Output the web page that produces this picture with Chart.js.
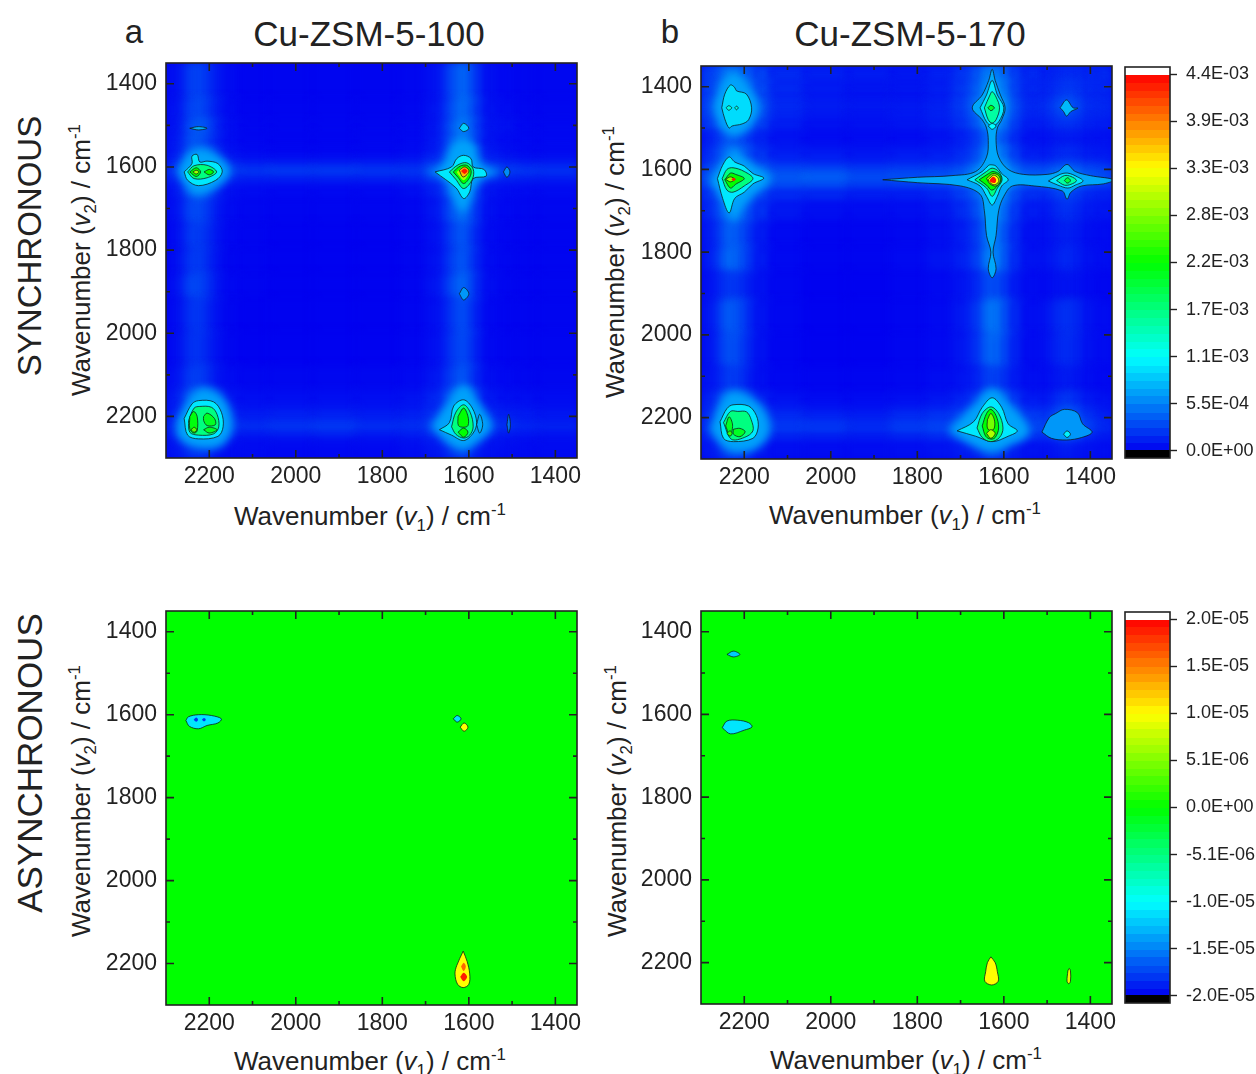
<!DOCTYPE html>
<html>
<head>
<meta charset="utf-8">
<script src="https://cdn.jsdelivr.net/npm/chart.js@4/dist/chart.umd.min.js"></script>
<style>
  html, body { margin: 0; padding: 0; background: #fff; }
  body { position: relative; width: 1256px; height: 1074px; overflow: hidden; font-family: "Liberation Sans", Arial, sans-serif; color: #222; }
  canvas { position: absolute; }
  .txt { position: absolute; white-space: nowrap; transform: translate(-50%, -50%); line-height: 1; }
  .rot { transform: translate(-50%, -50%) rotate(-90deg); }
  .ax { font-size: 26px; }
  .ax span { font-size: 65%; position: relative; }
  .ax .sb { top: 6px; }
  .ax .sp { top: -10px; }
</style>
</head>
<body>
<div class="txt" style="left:134px;top:31px;font-size:33px">a</div>
<div class="txt" style="left:670px;top:31px;font-size:33px">b</div>
<div class="txt" style="left:369px;top:33px;font-size:35px">Cu-ZSM-5-100</div>
<div class="txt" style="left:910px;top:33px;font-size:35px">Cu-ZSM-5-170</div>
<div class="txt rot" style="left:29px;top:246px;font-size:33px">SYNCHRONOUS</div>
<div class="txt rot" style="left:29px;top:763px;font-size:35px">ASYNCHRONOUS</div>
<div class="txt ax" style="left:370px;top:516px">Wavenumber (<i>v</i><span class="sb">1</span>) / cm<span class="sp">-1</span></div>
<div class="txt ax" style="left:905px;top:515px">Wavenumber (<i>v</i><span class="sb">1</span>) / cm<span class="sp">-1</span></div>
<div class="txt ax" style="left:370px;top:1061px">Wavenumber (<i>v</i><span class="sb">1</span>) / cm<span class="sp">-1</span></div>
<div class="txt ax" style="left:906px;top:1060px">Wavenumber (<i>v</i><span class="sb">1</span>) / cm<span class="sp">-1</span></div>
<div class="txt ax rot" style="left:81px;top:260px">Wavenumber (<i>v</i><span class="sb">2</span>) / cm<span class="sp">-1</span></div>
<div class="txt ax rot" style="left:615px;top:262px">Wavenumber (<i>v</i><span class="sb">2</span>) / cm<span class="sp">-1</span></div>
<div class="txt ax rot" style="left:81px;top:801px">Wavenumber (<i>v</i><span class="sb">2</span>) / cm<span class="sp">-1</span></div>
<div class="txt ax rot" style="left:617px;top:801px">Wavenumber (<i>v</i><span class="sb">2</span>) / cm<span class="sp">-1</span></div>
<script>
// wavenumber ticks (only the even hundreds get a label)
const waveTicks = [1400, 1500, 1600, 1700, 1800, 1900, 2000, 2100, 2200];
const waveLabels = [1400, 1600, 1800, 2000, 2200];

// colour bars, sync values in 1e-5 and async values in 1e-6
const syncBarTicks = [440, 385, 330, 275, 220, 165, 110, 55, 0];
const syncBarLabels = ['4.4E-03', '3.9E-03', '3.3E-03', '2.8E-03', '2.2E-03', '1.7E-03', '1.1E-03', '5.5E-04', '0.0E+00'];
const asyncBarTicks = [20, 15, 10, 5, 0, -5, -10, -15, -20];
const asyncBarLabels = ['2.0E-05', '1.5E-05', '1.0E-05', '5.1E-06', '0.0E+00', '-5.1E-06', '-1.0E-05', '-1.5E-05', '-2.0E-05'];
const syncBarLevels = [5, 14, 23, 32, 41, 50, 60, 69, 78, 87, 96, 105, 115, 124, 133, 142, 151, 160, 170, 179, 188, 197, 206, 215, 225, 234, 243, 252, 261, 270, 280, 289, 298, 307, 316, 325, 335, 344, 353, 362, 371, 380, 390, 399, 408, 417, 426, 435, 460, -20];
const asyncBarLevels = [-19.6, -18.8, -17.9, -17.1, -16.3, -15.4, -14.6, -13.8, -12.9, -12.1, -11.3, -10.4, -9.6, -8.8, -7.9, -7.1, -6.3, -5.4, -4.6, -3.8, -2.9, -2.1, -1.3, -0.4, 0.4, 1.3, 2.1, 2.9, 3.8, 4.6, 5.4, 6.3, 7.1, 7.9, 8.8, 9.6, 10.4, 11.3, 12.1, 12.9, 13.8, 14.6, 15.4, 16.3, 17.1, 17.9, 18.8, 19.6, 21, -21];

// panel a, synchronous, band edges and band values in 1e-5
const edgesV1A = [2300, 2275, 2258, 2243, 2228, 2213, 2198, 2183, 2165, 2130, 2060, 1960, 1860, 1760, 1700, 1665, 1645, 1630, 1615, 1600, 1585, 1565, 1530, 1490, 1440, 1350];
const edgesV2A = [1350, 1440, 1490, 1520, 1560, 1585, 1600, 1612, 1625, 1645, 1680, 1740, 1800, 1860, 1920, 2000, 2080, 2140, 2180, 2205, 2222, 2238, 2255, 2275, 2300];
const gridA = [
  [6,10,22,32,34,28,20,12,5,2,2,2,2,3,7,18,36,46,50,42,22,7,4,3,3],
  [7,12,24,34,38,30,22,13,5,2,2,2,2,3,8,20,38,50,52,44,24,8,5,3,3],
  [8,14,30,42,48,42,30,16,7,3,3,3,3,4,10,24,44,60,62,50,26,10,8,4,4],
  [9,15,30,42,44,36,26,15,6,3,2,2,3,4,10,24,46,60,64,50,26,9,5,4,4],
  [10,20,40,52,55,50,40,22,10,5,4,4,4,6,14,34,60,75,80,62,34,13,8,5,5],
  [16,30,55,68,70,64,52,32,18,12,12,12,12,14,26,50,80,95,100,80,48,22,16,12,12],
  [24,34,60,80,85,80,65,42,30,26,28,28,26,26,36,60,95,110,110,90,55,34,30,26,24],
  [26,36,62,82,86,80,65,42,30,28,30,30,28,28,38,62,95,110,110,90,55,35,32,28,26],
  [16,26,50,66,68,60,48,30,18,14,14,14,14,16,26,46,75,95,95,75,40,20,16,14,12],
  [8,16,34,48,50,40,30,18,8,5,4,4,4,6,14,30,55,70,70,55,28,10,6,5,5],
  [6,12,26,36,38,30,22,12,5,3,2,2,2,3,9,22,40,52,54,42,22,7,4,3,3],
  [4,10,20,30,30,24,18,10,4,2,1,1,1,2,7,16,30,40,42,32,16,5,3,2,2],
  [4,10,20,28,30,24,16,9,3,2,1,1,1,2,7,16,30,40,42,32,16,5,3,2,2],
  [5,12,26,36,36,28,20,10,4,2,1,1,1,2,8,20,36,48,50,38,18,6,3,2,2],
  [4,9,18,26,28,22,14,8,3,1,1,1,1,2,6,14,26,36,38,28,14,4,2,2,2],
  [4,9,18,24,26,20,14,8,3,1,1,1,1,2,6,14,26,34,36,28,14,4,2,2,2],
  [6,12,22,30,32,26,18,10,5,3,3,3,3,4,9,18,30,40,42,32,16,6,4,3,3],
  [10,18,36,48,50,44,34,20,10,6,6,6,6,8,16,30,50,64,66,50,26,11,7,6,5],
  [14,24,46,60,64,60,46,28,16,12,14,14,12,14,22,38,62,78,80,60,34,18,14,12,10],
  [16,26,50,66,70,66,50,32,20,16,18,20,16,18,26,44,70,84,86,66,38,20,18,14,12],
  [20,30,54,72,76,70,54,36,26,24,28,30,24,24,30,48,72,88,90,70,42,26,26,20,18],
  [16,24,46,62,66,60,44,28,18,14,16,18,14,16,24,40,62,78,80,60,34,18,14,12,10],
  [10,16,30,42,44,38,28,16,8,6,6,6,6,8,14,26,44,56,58,42,22,10,8,6,6],
  [8,12,20,26,28,24,18,10,6,5,4,4,4,6,10,16,26,34,34,26,14,8,6,5,5]
];
// each contour: level, black line or not, then v1,v2 pairs (level 70 without a line is the soft glow)
const contoursA = [
  [70,0, 2275,1610,2235,1560,2190,1565,2150,1610,2190,1655,2235,1665,2275,1610],
  [100,1, 2258,1612,2240,1592,2240,1574,2228,1570,2222,1588,2205,1586,2180,1592,2170,1612,2185,1632,2225,1645,2250,1632,2258,1612],
  [165,1, 2250,1612,2235,1597,2205,1596,2183,1612,2205,1626,2235,1628,2250,1612],
  [220,1, 2245,1612,2230,1602,2220,1612,2230,1623,2245,1612],
  [220,1, 2212,1612,2200,1606,2190,1612,2200,1619,2212,1612],
  [290,1, 2238,1612,2230,1608,2224,1612,2230,1617,2238,1612],
  [75,1, 2245,1507,2225,1503,2205,1507,2225,1511,2245,1507],
  [70,0, 1700,1612,1650,1590,1640,1550,1612,1535,1585,1550,1580,1590,1530,1612,1580,1635,1600,1690,1612,1710,1630,1690,1650,1630,1700,1612],
  [100,1, 1678,1612,1640,1600,1628,1580,1612,1572,1595,1580,1590,1600,1565,1606,1560,1622,1590,1628,1598,1660,1612,1676,1630,1650,1678,1612],
  [165,1, 1645,1612,1625,1595,1605,1590,1590,1605,1592,1630,1612,1652,1630,1630,1645,1612],
  [220,1, 1636,1612,1620,1598,1605,1596,1595,1608,1598,1625,1612,1640,1625,1625,1636,1612],
  [290,0, 1628,1612,1612,1600,1600,1610,1603,1622,1612,1632,1622,1622,1628,1612],
  [360,1, 1622,1608,1610,1600,1600,1608,1604,1618,1614,1624,1622,1608],
  [430,0, 1618,1610,1610,1604,1603,1610,1610,1617,1618,1610],
  [90,1, 1622,1507,1612,1495,1600,1507,1612,1515,1622,1507],
  [60,1, 1520,1612,1512,1600,1505,1612,1512,1625,1520,1612],
  [65,1, 1622,1905,1612,1890,1600,1905,1612,1920,1622,1905],
  [70,0, 2275,2210,2225,2135,2170,2150,2145,2220,2170,2270,2225,2275,2272,2250,2275,2210],
  [100,1, 2258,2205,2240,2170,2225,2162,2190,2165,2172,2190,2168,2225,2180,2248,2225,2254,2250,2245,2258,2205],
  [165,1, 2248,2210,2235,2180,2222,2176,2195,2178,2182,2195,2178,2225,2190,2242,2225,2245,2245,2238,2248,2210],
  [215,1, 2245,2200,2236,2188,2228,2200,2228,2235,2236,2240,2245,2230,2245,2200],
  [205,1, 2213,2200,2205,2192,2188,2205,2186,2220,2205,2222,2213,2210,2213,2200],
  [205,1, 2213,2232,2200,2226,2182,2232,2200,2240,2213,2232],
  [260,1, 2242,2232,2235,2226,2229,2232,2235,2238,2242,2232],
  [70,0, 1690,2225,1650,2170,1612,2125,1575,2170,1545,2225,1590,2270,1612,2280,1640,2270,1690,2225],
  [95,1, 1668,2232,1645,2215,1635,2175,1612,2160,1592,2180,1582,2215,1590,2240,1612,2258,1640,2245,1668,2232],
  [165,1, 1640,2225,1630,2190,1612,2172,1597,2190,1590,2225,1598,2245,1612,2252,1630,2243,1640,2225],
  [220,1, 1625,2200,1612,2180,1602,2200,1602,2222,1612,2226,1624,2222,1625,2200],
  [220,1, 1625,2238,1612,2228,1602,2238,1612,2250,1625,2238],
  [75,1, 1582,2220,1575,2195,1568,2220,1575,2240,1582,2220],
  [50,1, 1512,2220,1508,2195,1504,2220,1508,2240,1512,2220]
];

// panel b, synchronous
const edgesV1B = [2300, 2275, 2258, 2243, 2226, 2210, 2193, 2175, 2140, 2060, 1960, 1860, 1780, 1720, 1680, 1655, 1638, 1622, 1605, 1585, 1555, 1510, 1485, 1468, 1452, 1436, 1415, 1385, 1350];
const edgesV2B = [1350, 1390, 1420, 1440, 1460, 1480, 1510, 1550, 1585, 1605, 1618, 1632, 1650, 1680, 1730, 1790, 1850, 1920, 2000, 2080, 2140, 2180, 2205, 2222, 2240, 2260, 2300];
const gridB = [
  [26,34,48,58,60,52,42,30,18,14,12,10,14,22,36,52,62,62,50,28,18,16,18,22,22,20,18,18],
  [28,38,56,70,72,62,50,34,18,12,10,10,14,24,40,60,75,75,58,30,18,18,22,28,28,24,20,18],
  [30,42,64,80,84,70,54,36,18,12,10,10,14,26,46,70,90,90,66,32,18,20,28,36,36,28,20,18],
  [32,46,70,90,95,80,60,40,20,14,12,12,16,28,50,78,100,100,74,36,20,24,34,46,46,34,22,20],
  [30,44,68,86,90,76,56,38,18,12,10,12,16,26,46,72,95,95,68,34,18,22,30,38,38,30,20,18],
  [24,36,56,72,76,64,46,30,14,8,8,10,14,22,38,60,80,80,58,28,14,16,22,26,26,22,16,14],
  [12,20,32,42,44,36,26,16,8,5,5,5,8,14,24,40,55,55,40,20,8,9,12,14,14,12,9,8],
  [18,28,44,56,58,50,36,24,14,12,10,12,14,20,32,52,72,72,54,28,14,14,18,22,22,18,14,12],
  [28,40,64,80,84,72,56,40,28,26,22,24,26,32,50,76,100,100,76,44,30,30,36,42,42,36,30,26],
  [36,50,76,96,100,86,66,50,40,42,34,36,38,46,66,90,110,110,90,58,44,46,54,62,62,52,42,36],
  [40,54,80,100,104,90,72,56,46,50,40,42,44,50,70,94,110,110,94,64,50,52,62,70,70,58,48,40],
  [34,48,72,92,96,82,64,46,38,38,30,32,34,44,62,88,108,108,86,54,40,42,50,58,58,48,38,32],
  [22,34,54,72,74,62,46,30,20,18,14,14,18,28,44,66,90,90,66,36,22,22,30,36,36,28,20,16],
  [16,26,44,58,60,50,36,22,10,6,5,6,10,18,32,52,74,74,52,26,12,12,18,24,24,18,12,10],
  [10,18,32,46,48,38,24,12,4,2,2,3,6,12,24,42,62,62,42,20,7,8,12,16,16,12,7,5],
  [10,20,36,50,52,40,26,12,4,2,2,4,8,14,26,44,66,66,44,20,8,10,14,20,20,14,8,6],
  [6,12,20,26,28,22,14,8,3,1,1,2,4,8,16,28,38,38,28,12,5,5,8,10,10,8,5,3],
  [8,16,32,44,44,34,20,9,3,1,1,2,4,10,22,40,58,58,40,18,6,10,18,24,24,18,9,5],
  [7,14,28,38,40,30,18,8,2,1,1,2,4,9,20,36,50,50,36,16,5,9,16,22,22,16,8,5],
  [8,12,20,28,30,24,14,7,3,2,2,3,5,8,14,24,32,32,24,12,6,7,10,14,14,10,6,4],
  [14,22,40,54,56,46,30,16,8,5,5,7,10,16,28,46,62,62,46,26,12,12,20,28,28,20,12,8],
  [20,30,52,70,72,62,44,28,18,14,12,18,22,30,46,68,86,86,68,44,26,24,36,46,46,34,22,14],
  [22,34,58,78,82,70,50,34,24,22,18,24,28,38,56,80,100,100,80,54,32,30,44,60,60,44,28,18],
  [24,38,62,84,88,76,56,38,28,28,22,30,34,44,64,88,105,105,88,60,36,36,52,70,70,52,32,20],
  [18,28,48,66,68,58,42,28,18,16,14,18,22,30,46,68,86,86,68,44,26,26,38,50,50,38,22,14],
  [10,14,22,30,32,26,18,10,6,5,5,6,8,12,16,24,32,32,24,14,8,8,10,14,14,10,8,6]
];
const contoursB = [
  // arms of the 1627 / 1625 cross
  [72,1, 1880,1625,1800,1619,1720,1615,1665,1605,1640,1570,1636,1530,1640,1500,1650,1480,1673,1451,1650,1420,1635,1385,1627,1358,1620,1385,1608,1420,1597,1451,1605,1480,1615,1500,1618,1530,1612,1570,1590,1600,1555,1612,1500,1612,1475,1605,1454,1588,1435,1605,1400,1615,1345,1625,1370,1635,1420,1640,1445,1655,1454,1672,1465,1652,1530,1640,1580,1640,1600,1665,1612,1700,1618,1760,1625,1800,1618,1840,1627,1862,1636,1840,1630,1800,1640,1760,1645,1700,1655,1660,1700,1640,1800,1632,1880,1625],
  [100,1, 1685,1625,1650,1605,1635,1590,1627,1589,1618,1592,1605,1610,1590,1625,1605,1640,1615,1665,1627,1686,1640,1665,1655,1640,1685,1625],
  [165,1, 1667,1625,1640,1605,1627,1597,1612,1605,1604,1625,1615,1645,1627,1665,1640,1645,1667,1625],
  [220,1, 1657,1625,1635,1610,1625,1605,1610,1612,1606,1625,1615,1640,1628,1650,1640,1638,1657,1625],
  [280,1, 1640,1622,1625,1610,1612,1615,1608,1628,1618,1640,1632,1635,1640,1622],
  [330,1, 1636,1625,1624,1614,1614,1620,1612,1630,1622,1637,1632,1632,1636,1625],
  [430,0, 1633,1626,1625,1618,1618,1624,1620,1632,1630,1631,1633,1626],
  // 1627 / 1451
  [100,1, 1655,1451,1640,1420,1627,1385,1615,1420,1600,1451,1612,1485,1627,1495,1640,1485,1655,1451],
  [150,1, 1645,1451,1632,1420,1627,1412,1618,1425,1610,1451,1618,1480,1627,1488,1636,1480,1645,1451],
  [205,1, 1637,1451,1630,1445,1622,1451,1630,1458,1637,1451],
  [110,1, 1636,1495,1627,1489,1618,1495,1627,1503,1636,1495],
  // 1454 / 1451
  [80,1, 1470,1451,1455,1432,1440,1451,1429,1452,1445,1460,1455,1471,1462,1460,1470,1451],
  // 1454 / 1625
  [100,1, 1497,1628,1470,1612,1452,1609,1430,1618,1417,1628,1435,1638,1452,1645,1475,1638,1497,1628],
  [150,1, 1478,1627,1460,1615,1445,1617,1432,1627,1445,1636,1460,1638,1478,1627],
  [195,1, 1460,1627,1453,1620,1446,1627,1453,1633,1460,1627],
  // 2226 / 1451
  [70,0, 2270,1451,2250,1395,2226,1365,2190,1400,2165,1451,2190,1500,2226,1520,2250,1500,2270,1451],
  [95,1, 2252,1451,2245,1418,2232,1396,2222,1402,2218,1410,2195,1418,2183,1451,2190,1480,2205,1490,2228,1495,2235,1500,2245,1478,2252,1451],
  [125,1, 2242,1451,2236,1446,2229,1451,2236,1457,2242,1451],
  [125,1, 2222,1451,2218,1447,2214,1451,2218,1456,2222,1451],
  // 2226 / 1625
  [70,0, 2280,1625,2245,1590,2226,1550,2195,1580,2140,1622,2195,1680,2226,1725,2245,1680,2280,1625],
  [100,1, 2262,1622,2250,1590,2235,1570,2222,1582,2200,1592,2180,1610,2155,1621,2180,1635,2200,1655,2222,1670,2235,1705,2250,1670,2262,1622],
  [165,1, 2251,1622,2240,1600,2226,1596,2200,1605,2180,1622,2200,1640,2226,1655,2240,1650,2251,1622],
  [220,1, 2245,1625,2232,1609,2220,1612,2200,1622,2220,1636,2232,1645,2245,1625],
  [280,1, 2243,1624,2232,1618,2222,1624,2232,1630,2243,1624],
  [430,0, 2230,1624,2224,1620,2220,1624,2224,1628,2230,1624],
  // 2226 / 2225
  [70,0, 2280,2230,2235,2140,2170,2160,2140,2225,2170,2275,2235,2282,2280,2230],
  [100,1, 2256,2210,2240,2178,2226,2169,2190,2172,2172,2195,2168,2225,2180,2250,2225,2258,2248,2250,2256,2210],
  [165,1, 2248,2212,2232,2185,2215,2185,2195,2186,2184,2205,2180,2232,2200,2248,2230,2252,2248,2212],
  [205,1, 2243,2220,2235,2198,2227,2218,2233,2244,2243,2220],
  [205,1, 2225,2228,2210,2226,2198,2234,2210,2246,2225,2240,2225,2228],
  [240,1, 2240,2238,2233,2232,2228,2238,2233,2245,2240,2238],
  // 1627 / 2225
  [70,0, 1730,2232,1670,2170,1627,2130,1585,2170,1540,2235,1590,2270,1627,2285,1670,2270,1730,2232],
  [100,1, 1708,2232,1670,2210,1650,2175,1627,2152,1605,2175,1590,2215,1569,2232,1590,2245,1627,2258,1665,2245,1708,2232],
  [165,1, 1662,2225,1650,2190,1630,2174,1612,2190,1602,2225,1610,2248,1630,2258,1650,2248,1662,2225],
  [220,1, 1650,2220,1640,2190,1630,2180,1618,2195,1612,2225,1620,2248,1630,2252,1642,2245,1650,2220],
  [270,1, 1638,2205,1630,2190,1622,2205,1622,2225,1630,2232,1638,2225,1638,2205],
  [295,1, 1640,2238,1630,2229,1620,2238,1630,2250,1640,2238],
  // 1454 / 2225
  [65,1, 1512,2235,1495,2200,1480,2190,1460,2180,1430,2188,1418,2215,1396,2235,1420,2248,1455,2254,1490,2250,1512,2235],
  [105,1, 1462,2240,1454,2232,1446,2240,1454,2248,1462,2240]
];

// panels c and d, asynchronous, values in 1e-6
const edgesV1Flat = [2300, 1350];
const edgesV2Flat = [1350, 2300];
const gridC = [[0]];
const contoursC = [
  [-11,1, 2254,1614,2248,1605,2225,1600,2195,1602,2172,1610,2180,1620,2205,1626,2225,1634,2246,1628,2254,1614],
  [-18,0, 2236,1612,2230,1607,2226,1612,2230,1617,2236,1612],
  [-18,0, 2217,1612,2212,1608,2208,1612,2212,1616,2217,1612],
  [-11,1, 1636,1610,1627,1602,1618,1610,1627,1618,1636,1610],
  [10,1, 1620,1630,1611,1620,1602,1630,1611,1640,1620,1630],
  [10,1, 1613,2170,1604,2195,1598,2225,1600,2250,1613,2258,1626,2250,1632,2225,1628,2205,1613,2170],
  [16,0, 1618,2207,1612,2198,1607,2207,1612,2218,1618,2207],
  [19,0, 1620,2232,1612,2222,1604,2232,1612,2243,1620,2232]
];
const gridD = [[0]];
const contoursD = [
  [-12,1, 2240,1455,2225,1447,2210,1455,2225,1461,2240,1455],
  [-11,1, 2251,1632,2240,1616,2215,1614,2190,1620,2182,1630,2200,1638,2232,1647,2251,1632],
  [10,1, 1630,2186,1620,2200,1615,2222,1613,2245,1628,2254,1644,2245,1642,2222,1638,2200,1630,2186],
  [9,1, 1452,2220,1449,2214,1446,2220,1446,2245,1450,2251,1454,2245,1452,2220]
];

const colorStops = [[0, 0, 240], [0, 255, 255], [0, 255, 0], [255, 255, 0], [255, 0, 0]];
const fontFamily = '"Liberation Sans", Arial, sans-serif';
const inkColor = '#222';

function colorAt(v, lo, hi) {
    const f = (v - lo) / (hi - lo);
    if (f < 0) return '#000';
    if (f > 1) return '#fff';
    const p = f * (colorStops.length - 1);
    const i = Math.min(Math.floor(p), colorStops.length - 2);
    const c = colorStops[i].map((s, k) => Math.round(s + (colorStops[i + 1][k] - s) * (p - i)));
    return `rgb(${c[0]},${c[1]},${c[2]})`;
}

// a cell is a scatter point whose point style is a small filled canvas
const cellCache = new Map();
function cellImage(w, h, color) {
    const key = w + '|' + h + '|' + color;
    if (!cellCache.has(key)) {
        const c = document.createElement('canvas');
        c.width = w;
        c.height = h;
        const g = c.getContext('2d');
        g.fillStyle = color;
        g.fillRect(0, 0, w, h);
        cellCache.set(key, c);
    }
    return cellCache.get(key);
}

function cellStyle(range, extra) {
    return ctx => {
        const p = ctx.raw;
        if (!p) return 'rect';
        const { x, y } = ctx.chart.scales;
        const w = Math.abs(x.getPixelForValue(p.x + p.dx / 2) - x.getPixelForValue(p.x - p.dx / 2));
        const h = Math.abs(y.getPixelForValue(p.y + p.dy / 2) - y.getPixelForValue(p.y - p.dy / 2));
        return cellImage(Math.ceil(w) + extra, Math.ceil(h) + extra, colorAt(p.v, range[0], range[1]));
    };
}

function gridDataset(edgesV1, edgesV2, grid, range) {
    const cells = [];
    grid.forEach((row, j) => {
        row.forEach((v, i) => {
            cells.push({
                x: (edgesV1[i] + edgesV1[i + 1]) / 2,
                y: (edgesV2[j] + edgesV2[j + 1]) / 2,
                dx: Math.abs(edgesV1[i] - edgesV1[i + 1]),
                dy: Math.abs(edgesV2[j] - edgesV2[j + 1]),
                v: v
            });
        });
    });
    return {
        soft: true,
        data: cells,
        showLine: false,
        pointRadius: 2,
        pointBorderWidth: 0,
        pointStyle: cellStyle(range, 2)
    };
}

function contourDataset(row, range) {
    const pts = [];
    for (let i = 2; i < row.length; i += 2) pts.push({ x: row[i], y: row[i + 1] });
    const color = colorAt(row[0], range[0], range[1]);
    return {
        soft: row[0] === 70 && !row[1],
        data: pts,
        showLine: true,
        tension: 0.35,
        pointRadius: 0,
        fill: 'shape',
        backgroundColor: color,
        borderColor: row[1] ? 'rgba(15,25,25,0.85)' : color,
        borderWidth: row[1] ? 0.9 : 0
    };
}

// the filler paints inside beforeDatasetDraw, so the filter for a dataset is set once the one before it is done
function setFilter(chart, index) {
    const d = chart.data.datasets[index];
    chart.ctx.filter = !d ? 'none' : d.soft ? chart.options.plugins.frame.blur : 'blur(0.35px)';
}

// inward ticks on all four sides and the box
const framePlugin = {
    id: 'frame',
    beforeDatasetsDraw(chart) {
        const { ctx, chartArea: a } = chart;
        ctx.save();
        ctx.fillStyle = chart.options.plugins.frame.base;
        ctx.fillRect(a.left, a.top, a.right - a.left, a.bottom - a.top);
        ctx.restore();
        setFilter(chart, 0);
    },
    afterDatasetDraw(chart, args) {
        setFilter(chart, args.index + 1);
    },
    afterDatasetsDraw(chart) {
        chart.ctx.filter = 'none';
    },
    afterDraw(chart) {
        const { ctx, chartArea: a, scales } = chart;
        ctx.save();
        ctx.strokeStyle = inkColor;
        ctx.lineWidth = 1.6;
        if (chart.options.plugins.frame.ticks) {
            ctx.beginPath();
            scales.x.ticks.forEach(t => {
                const px = scales.x.getPixelForValue(t.value);
                const len = waveLabels.includes(t.value) ? 8 : 4;
                ctx.moveTo(px, a.bottom); ctx.lineTo(px, a.bottom - len);
                ctx.moveTo(px, a.top); ctx.lineTo(px, a.top + len);
            });
            scales.y.ticks.forEach(t => {
                const py = scales.y.getPixelForValue(t.value);
                const len = waveLabels.includes(t.value) ? 8 : 4;
                ctx.moveTo(a.left, py); ctx.lineTo(a.left + len, py);
                ctx.moveTo(a.right, py); ctx.lineTo(a.right - len, py);
            });
            ctx.stroke();
        }
        ctx.strokeRect(a.left, a.top, a.right - a.left, a.bottom - a.top);
        ctx.restore();
    }
};

function waveAxis(isX) {
    return {
        type: 'linear',
        reverse: isX,
        min: 1350,
        max: 2300,
        grid: { display: false, drawTicks: false },
        border: { display: false },
        afterBuildTicks: s => { s.ticks = waveTicks.map(value => ({ value })); },
        afterFit: s => {
            if (isX) {
                s.height = 44;
                s.paddingLeft = 0;
                s.paddingRight = 0;
            } else {
                s.width = 70;
                s.paddingTop = 0;
                s.paddingBottom = 0;
            }
        },
        ticks: {
            autoSkip: false,
            maxRotation: 0,
            padding: isX ? 7 : 9,
            color: inkColor,
            font: { family: fontFamily, size: 23, lineHeight: 1 },
            callback: v => (waveLabels.includes(v) ? String(v) : '')
        }
    };
}

function makePanel(id, left, top, height, range, edgesV1, edgesV2, grid, contours, blur) {
    const canvas = document.createElement('canvas');
    canvas.id = id;
    canvas.width = 505;
    canvas.height = height + 56;
    canvas.style.left = (left - 70) + 'px';
    canvas.style.top = (top - 12) + 'px';
    document.body.appendChild(canvas);
    const datasets = [gridDataset(edgesV1, edgesV2, grid, range)].concat(contours.map(c => contourDataset(c, range)));
    datasets.forEach((d, i) => { d.order = datasets.length - i; });
    return new Chart(canvas.getContext('2d'), {
        type: 'scatter',
        data: { datasets },
        options: {
            responsive: false,
            animation: false,
            events: [],
            layout: { padding: { top: 12, right: 24, left: 0, bottom: 0 } },
            scales: { x: waveAxis(true), y: { ...waveAxis(false), reverse: true } },
            plugins: {
                legend: { display: false },
                tooltip: { enabled: false },
                frame: { ticks: true, base: colorAt(0, range[0], range[1]), blur: blur }
            }
        },
        plugins: [framePlugin]
    });
}

function makeColorBar(id, top, range, pad, levels, tickValues, tickLabels) {
    const canvas = document.createElement('canvas');
    canvas.id = id;
    canvas.width = 141;
    canvas.height = 391 + 28;
    canvas.style.left = '1115px';
    canvas.style.top = (top - 12) + 'px';
    document.body.appendChild(canvas);
    const step = (range[1] - range[0]) / 48;
    const cells = levels.map(v => ({
        x: 0.5,
        y: v > range[1] ? range[1] + pad / 2 : v < range[0] ? range[0] - pad / 2 : v,
        dx: 1,
        dy: v > range[1] || v < range[0] ? pad : step,
        v: v
    }));
    return new Chart(canvas.getContext('2d'), {
        type: 'scatter',
        data: { datasets: [{ soft: true, data: cells, pointRadius: 2, pointBorderWidth: 0, pointStyle: cellStyle(range, 1) }] },
        options: {
            responsive: false,
            animation: false,
            events: [],
            layout: { padding: { top: 12, bottom: 16, left: 10, right: 0 } },
            scales: {
                x: { type: 'linear', display: false, min: 0, max: 1 },
                y: {
                    type: 'linear',
                    position: 'right',
                    min: range[0] - pad,
                    max: range[1] + pad,
                    border: { display: false },
                    grid: { drawOnChartArea: false, drawTicks: true, tickLength: 7, tickWidth: 1.4, tickColor: inkColor },
                    afterBuildTicks: s => { s.ticks = tickValues.map(value => ({ value })); },
                    afterFit: s => {
                        s.width = 86;
                        s.paddingTop = 0;
                        s.paddingBottom = 0;
                    },
                    ticks: {
                        autoSkip: false,
                        padding: 9,
                        color: inkColor,
                        font: { family: fontFamily, size: 18, lineHeight: 1 },
                        callback: v => tickLabels[tickValues.indexOf(v)]
                    }
                }
            },
            plugins: {
                legend: { display: false },
                tooltip: { enabled: false },
                frame: { ticks: false, base: '#fff', blur: 'none' }
            }
        },
        plugins: [framePlugin]
    });
}

makePanel('panelA', 166, 63, 395, [0, 440], edgesV1A, edgesV2A, gridA, contoursA, 'blur(4px)');
makePanel('panelB', 701, 66, 393, [0, 440], edgesV1B, edgesV2B, gridB, contoursB, 'blur(4px)');
makePanel('panelC', 166, 611, 394, [-20, 20], edgesV1Flat, edgesV2Flat, gridC, contoursC, 'none');
makePanel('panelD', 701, 611, 393, [-20, 20], edgesV1Flat, edgesV2Flat, gridD, contoursD, 'none');
makeColorBar('barSync', 67, [0, 440], 8.2, syncBarLevels, syncBarTicks, syncBarLabels);
makeColorBar('barAsync', 612, [-20, 20], 0.745, asyncBarLevels, asyncBarTicks, asyncBarLabels);
</script>
</body>
</html>
